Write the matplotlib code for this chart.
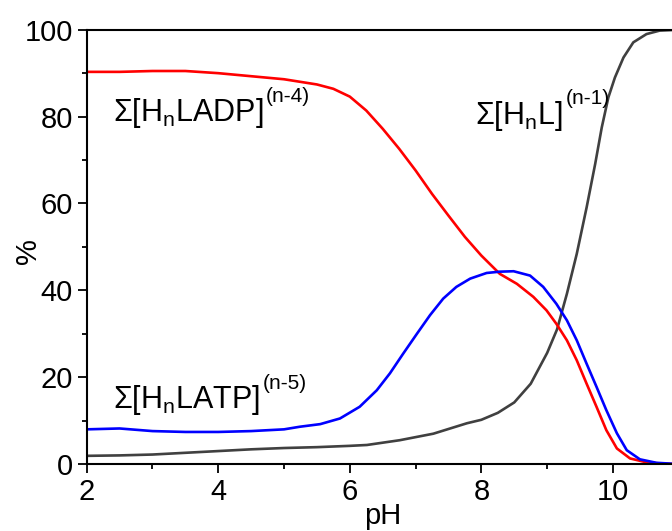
import matplotlib.pyplot as plt
from matplotlib.ticker import MultipleLocator

plt.rcParams['font.family'] = ['Liberation Sans', 'DejaVu Sans']

# species distribution, percentages
ph_adp = [2.0, 2.5, 3.0, 3.5, 4.0, 4.5, 5.0, 5.5, 5.75, 6.0, 6.25, 6.5, 6.75,
          7.0, 7.25, 7.5, 7.75, 8.0, 8.28, 8.54, 8.79, 8.99, 9.14, 9.3, 9.45,
          9.6, 9.75, 9.9, 10.06, 10.26, 10.51, 10.75, 11.0]
adp = [90.3, 90.3, 90.5, 90.5, 90.0, 89.3, 88.6, 87.4, 86.4, 84.6, 81.4, 77.2,
       72.6, 67.6, 62.2, 57.2, 52.3, 48.0, 43.8, 41.5, 38.5, 35.4, 32.3, 28.5,
       23.9, 18.5, 13.2, 7.8, 3.6, 1.3, 0.4, 0.1, 0.0]

ph_atp = [2.0, 2.5, 3.0, 3.5, 4.0, 4.5, 5.0, 5.24, 5.55, 5.85, 6.15, 6.41,
          6.61, 6.81, 7.02, 7.22, 7.42, 7.62, 7.83, 8.08, 8.28, 8.49, 8.74,
          8.94, 9.14, 9.3, 9.45, 9.6, 9.75, 9.9, 10.06, 10.21, 10.41, 10.66, 11.0]
atp = [8.0, 8.2, 7.6, 7.4, 7.4, 7.6, 8.0, 8.6, 9.2, 10.5, 13.2, 17.0, 20.9,
       25.4, 30.0, 34.3, 38.1, 40.8, 42.7, 44.0, 44.3, 44.4, 43.4, 40.8, 36.9,
       33.1, 28.5, 23.1, 17.8, 12.4, 7.1, 3.2, 1.1, 0.3, 0.0]

ph_lig = [2.0, 2.5, 3.0, 3.5, 4.0, 4.5, 5.0, 5.5, 6.0, 6.26, 6.76, 7.27, 7.78,
          8.0, 8.25, 8.5, 8.75, 9.0, 9.15, 9.3, 9.45, 9.6, 9.73, 9.83, 9.93,
          10.03, 10.16, 10.31, 10.51, 10.71, 11.0]
lig = [1.9, 2.0, 2.2, 2.6, 3.0, 3.4, 3.7, 3.9, 4.2, 4.4, 5.5, 7.0, 9.4, 10.2,
       11.8, 14.2, 18.5, 25.6, 31.0, 39.2, 48.4, 59.1, 69.1, 77.5, 84.4, 89.0,
       93.6, 97.1, 99.0, 99.8, 100.0]

fig = plt.figure(figsize=(6.72, 5.31), dpi=100)
ax = fig.add_axes([0.129, 0.126, 0.881, 0.818])

ax.plot(ph_lig, lig, color='#404040', lw=1.9, solid_joinstyle='round')
ax.plot(ph_adp, adp, color='#ff0000', lw=1.9, solid_joinstyle='round')
ax.plot(ph_atp, atp, color='#0000ff', lw=1.9, solid_joinstyle='round')

ax.set_xlim(2, 11)
ax.set_ylim(0, 100)
ax.xaxis.set_major_locator(MultipleLocator(2))
ax.xaxis.set_minor_locator(MultipleLocator(1))
ax.yaxis.set_major_locator(MultipleLocator(20))
ax.yaxis.set_minor_locator(MultipleLocator(10))
ax.tick_params(which='major', direction='out', length=6.5, width=1.3, labelsize=21)
ax.tick_params(which='minor', direction='out', length=3.5, width=1.3)
for s in ['left', 'bottom', 'top']:
    ax.spines[s].set_linewidth(1.5)
ax.spines['right'].set_visible(False)

ax.set_xlabel('pH', fontsize=21, labelpad=-3)
ax.set_ylabel('%', fontsize=21)
ax.yaxis.set_label_coords(-0.075, 0.49)


# species label: main part plus a raised charge superscript
def species_label(x, y, name, charge):
    t = ax.text(x, y, r'$\mathregular{\Sigma[H_n%s]}$' % name, fontsize=22)
    ax.annotate(charge, xy=(1, 1), xycoords=t, xytext=(2, 7),
                textcoords='offset points', ha='left', va='top', fontsize=15)


species_label(2.4, 78.9, 'LADP', '(n-4)')
species_label(2.4, 12.8, 'LATP', '(n-5)')
species_label(7.9, 78.3, 'L', '(n-1)')

fig.savefig('out.png', dpi=100)
